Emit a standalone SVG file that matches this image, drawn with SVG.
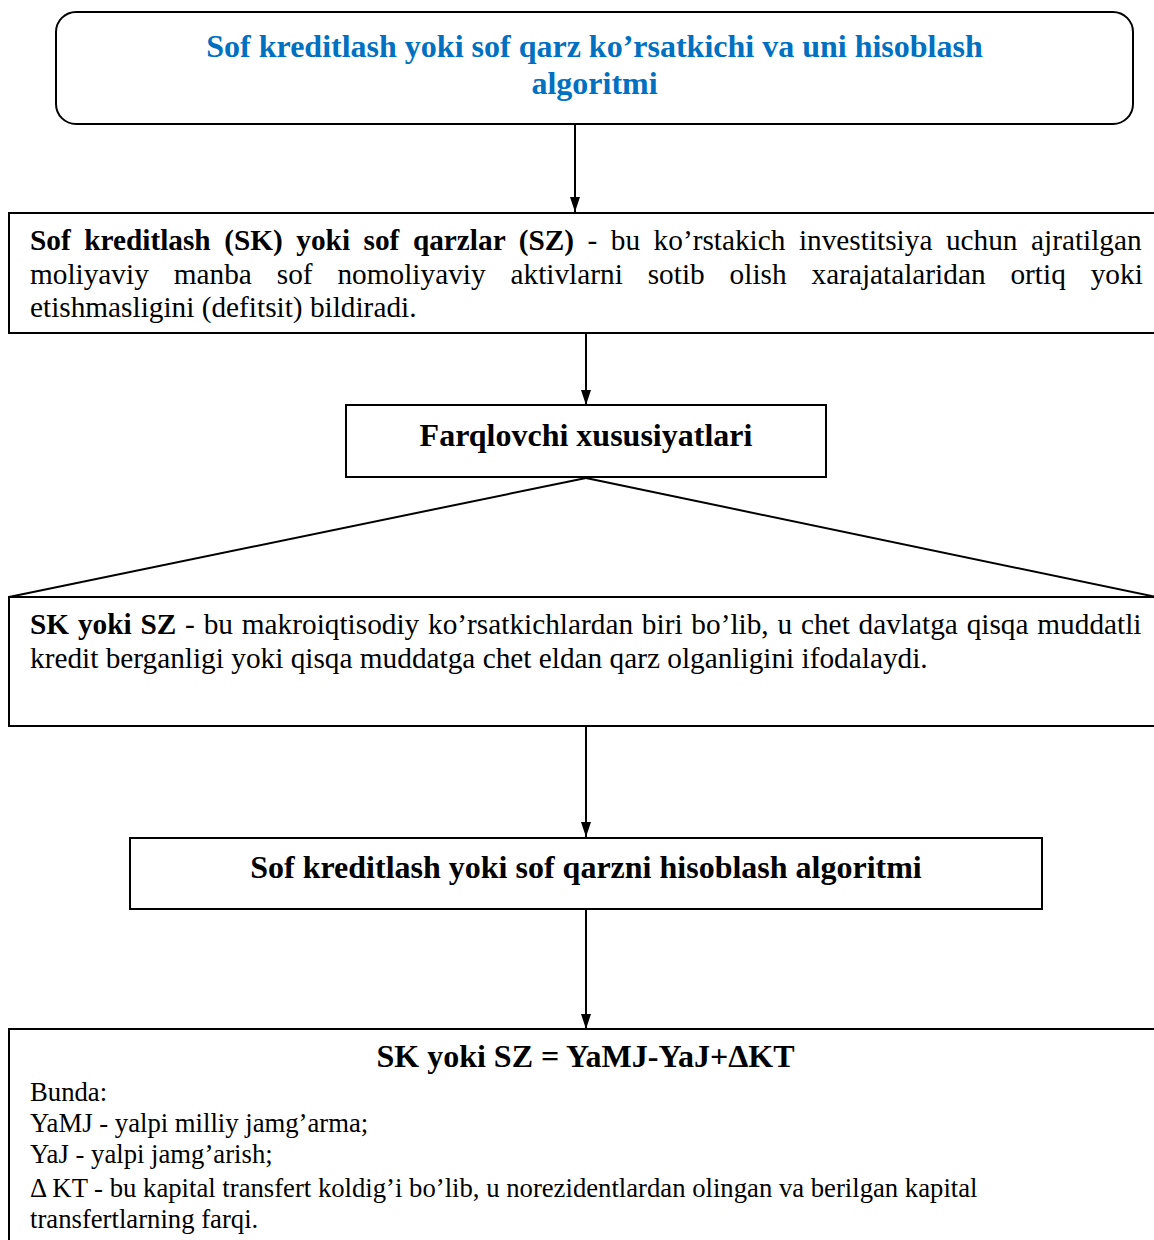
<svg xmlns="http://www.w3.org/2000/svg" width="1154" height="1240" viewBox="0 0 1154 1240">
<style>
  .box { fill: #ffffff; stroke: #000000; stroke-width: 2; }
  .conn { fill: none; stroke: #000000; stroke-width: 2; }
  .t { font-family: "Liberation Serif", "Times New Roman", serif; fill: #000000; }
  .title { font-family: "Liberation Serif", "Times New Roman", serif; font-weight: bold; font-size: 32px; fill: #0070C0; }
  .head { font-weight: bold; font-size: 32px; }
  .body29 { font-size: 29.3px; }
  .body27 { font-size: 26.7px; }
  .b { font-weight: bold; }
</style>
<defs>
  <marker id="arrow" markerUnits="userSpaceOnUse" markerWidth="16" markerHeight="12" refX="15" refY="5" orient="auto">
    <path d="M0,0 L15,5 L0,10 z" fill="#000000"/>
  </marker>
</defs>
<rect width="1154" height="1240" fill="#ffffff"/>

<g id="connectors">
  <line class="conn" x1="575" y1="124" x2="575" y2="212" marker-end="url(#arrow)"/>
  <line class="conn" x1="586" y1="333" x2="586" y2="405" marker-end="url(#arrow)"/>
  <line class="conn" x1="586" y1="478" x2="9" y2="597"/>
  <line class="conn" x1="586" y1="478" x2="1156" y2="597"/>
  <line class="conn" x1="586" y1="717" x2="586" y2="837" marker-end="url(#arrow)"/>
  <line class="conn" x1="586" y1="909" x2="586" y2="1029" marker-end="url(#arrow)"/>
</g>

<g id="node-title">
  <rect class="box" x="56" y="12" width="1077" height="112" rx="20" ry="20"/>
  <text class="title" x="594.5" y="57" text-anchor="middle">Sof kreditlash yoki sof qarz ko’rsatkichi va uni hisoblash</text>
  <text class="title" x="594.5" y="94" text-anchor="middle">algoritmi</text>
</g>

<g id="node-definition">
  <rect class="box" x="9" y="213" width="1160" height="120"/>
  <text class="t body29" x="30" y="250" style="word-spacing:6.2px"><tspan class="b">Sof kreditlash (SK) yoki sof qarzlar (SZ)</tspan> - bu ko’rstakich investitsiya uchun ajratilgan</text>
  <text class="t body29" x="30" y="284" style="word-spacing:17.6px">moliyaviy manba sof nomoliyaviy aktivlarni sotib olish xarajatalaridan ortiq yoki</text>
  <text class="t body29" x="30" y="317">etishmasligini (defitsit) bildiradi.</text>
</g>

<g id="node-features">
  <rect class="box" x="346" y="405" width="480" height="72"/>
  <text class="t head" x="586" y="446" text-anchor="middle">Farqlovchi xususiyatlari</text>
</g>

<g id="node-sk-sz">
  <rect class="box" x="9" y="597" width="1160" height="129"/>
  <text class="t body29" x="30" y="634" style="word-spacing:1.5px"><tspan class="b">SK yoki SZ</tspan> - bu makroiqtisodiy ko’rsatkichlardan biri bo’lib, u chet davlatga qisqa muddatli</text>
  <text class="t body29" x="30" y="668">kredit berganligi yoki qisqa muddatga chet eldan qarz olganligini ifodalaydi.</text>
</g>

<g id="node-algorithm">
  <rect class="box" x="130" y="838" width="912" height="71"/>
  <text class="t head" x="586" y="878" text-anchor="middle">Sof kreditlash yoki sof qarzni hisoblash algoritmi</text>
</g>

<g id="node-formula">
  <rect class="box" x="9" y="1029" width="1160" height="230"/>
  <text class="t head" x="585.5" y="1067" text-anchor="middle">SK yoki SZ = YaMJ-YaJ+ΔKT</text>
  <text class="t body27" x="30" y="1101">Bunda:</text>
  <text class="t body27" x="30" y="1132">YaMJ - yalpi milliy jamg’arma;</text>
  <text class="t body27" x="30" y="1163">YaJ - yalpi jamg’arish;</text>
  <text class="t body27" x="30" y="1197">Δ KT - bu kapital transfert koldig’i bo’lib, u norezidentlardan olingan va berilgan kapital</text>
  <text class="t body27" x="30" y="1228">transfertlarning farqi.</text>
</g>
</svg>
